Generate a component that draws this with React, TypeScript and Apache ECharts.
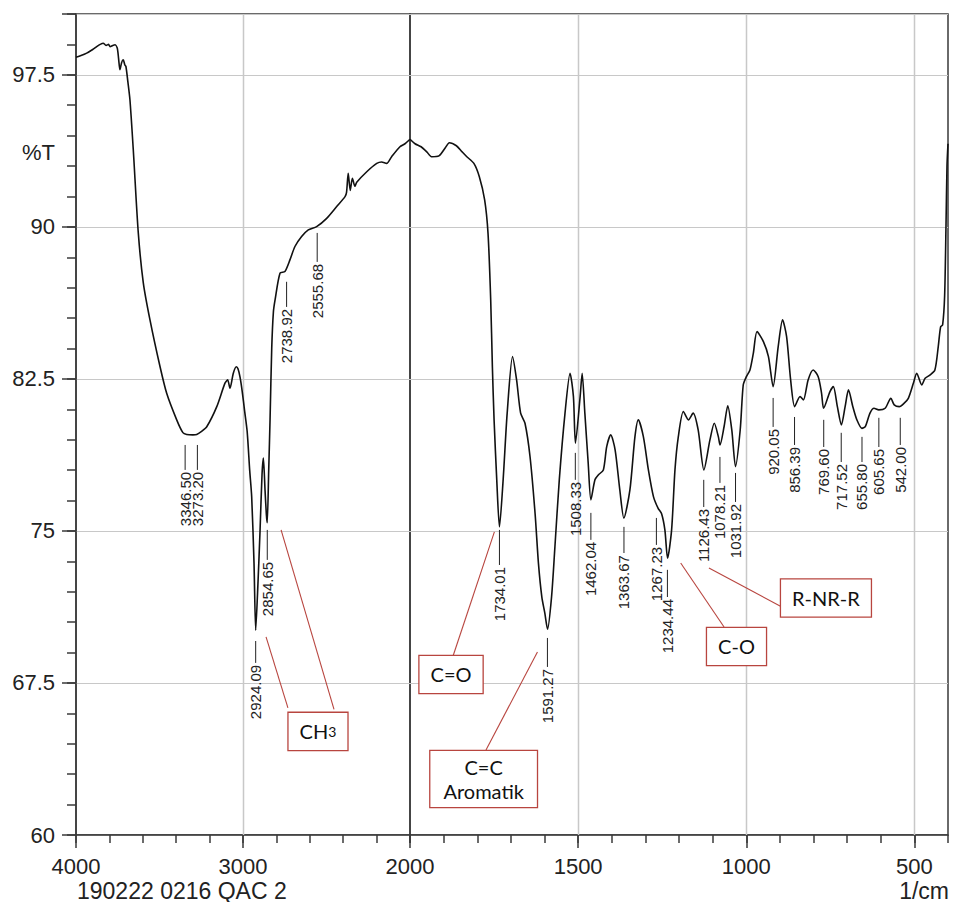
import React, { useEffect, useRef } from "react";
import * as echarts from "echarts";

// ---------- DATA ----------
// FTIR spectrum, wavenumber (1/cm) and transmittance (%T)
const spectrumWavenumber = [
  4000, 3970, 3936, 3900, 3876, 3855, 3837, 3820, 3805, 3796, 3780, 3766, 3753, 3745, 3737, 3727, 3717, 3708, 3701,
  3690, 3677, 3657, 3627, 3597, 3557, 3497, 3457, 3397, 3360, 3337, 3300, 3277, 3250, 3217, 3157, 3108, 3092, 3078,
  3058, 3040, 3030, 3018, 3005, 2990, 2975, 2960, 2948, 2934, 2924, 2910, 2898, 2886, 2878, 2868, 2860, 2855, 2846,
  2838, 2828, 2818, 2808, 2778, 2749, 2719, 2689, 2649, 2609, 2559, 2499, 2439, 2389, 2380, 2370, 2358, 2345, 2330,
  2319, 2259, 2199, 2170, 2140, 2110, 2060, 2030, 2000,
  1985, 1967, 1950, 1936, 1914, 1895, 1883, 1862, 1845, 1831, 1810, 1794, 1778, 1768, 1760, 1755, 1750, 1742, 1734,
  1723, 1711, 1695, 1683, 1671, 1658, 1643, 1628, 1618, 1608, 1599, 1591, 1579, 1569, 1556, 1539, 1524, 1514, 1508,
  1494, 1488, 1480, 1470, 1462, 1450, 1440, 1425, 1415, 1403, 1390, 1376, 1364, 1346, 1331, 1321, 1306, 1291, 1276,
  1262, 1252, 1242, 1234, 1222, 1212, 1202, 1187, 1172, 1158, 1143, 1126, 1108, 1095, 1083, 1078, 1066, 1055, 1043,
  1032, 1018, 1009, 1000, 989, 979, 968, 949, 934, 920, 905, 892, 880, 868, 856, 840, 830, 816, 801, 786, 776, 770,
  751, 741, 729, 717, 706, 696, 683, 671, 656, 646, 632, 620, 606, 587, 570, 560, 545, 531, 518, 503, 493, 478, 468,
  454, 439, 429, 422, 416, 410, 406, 403, 400,
];
const spectrumTransmittance = [
  98.37, 98.45, 98.57, 98.75, 98.89, 99.0, 99.06, 98.95, 99.0, 98.89, 98.95, 98.98, 98.82, 98.3, 97.75, 98.1, 98.24,
  98.0, 97.91, 97.2, 96.27, 93.8, 89.7, 87.24, 85.41, 83.11, 81.79, 80.48, 79.85, 79.76, 79.74, 79.76, 79.9, 80.14,
  81.13, 82.29, 82.45, 82.04, 82.78, 83.1, 83.0, 82.6, 81.9, 80.9, 79.9, 78.0, 76.69, 73.4, 70.1, 72.5, 75.0, 77.8,
  78.6, 77.0, 75.8, 75.4, 78.0, 80.5, 84.0, 85.8, 86.4, 87.72, 87.8, 88.37, 89.03, 89.52, 89.85, 90.01, 90.42, 91.0,
  91.49, 91.7, 92.64, 91.8, 92.4, 92.0, 92.2, 92.72, 93.13, 93.2, 93.13, 93.46, 93.95, 94.1, 94.32,
  94.1, 93.95, 93.7, 93.46, 93.5, 93.9, 94.15, 94.0, 93.7, 93.46, 93.13, 92.48, 91.33, 89.69, 86.4, 83.1, 80.5, 77.52,
  75.2, 77.52, 80.81, 83.6, 82.45, 80.81, 80.31, 78.66, 75.86, 73.4, 71.75, 70.94, 70.15, 71.75, 74.22, 77.52, 80.81,
  82.78, 81.63, 79.33, 81.63, 82.78, 80.81, 78.34, 76.53, 77.52, 77.76, 78.01, 79.16, 79.74, 79.0, 77.02, 75.63, 77.02,
  79.65, 80.48, 79.65, 78.01, 76.69, 76.11, 75.86, 75.05, 73.65, 75.05, 78.01, 79.65, 80.89, 80.48, 80.81, 79.98,
  78.01, 79.49, 80.31, 79.65, 79.24, 80.14, 81.17, 79.98, 78.17, 79.98, 82.2, 82.6, 82.94, 83.76, 84.83, 84.34, 83.6,
  82.12, 84.09, 85.41, 84.59, 82.45, 81.13, 81.63, 81.46, 82.45, 82.94, 82.61, 81.79, 81.05, 81.87, 82.12, 81.13,
  80.23, 81.13, 81.96, 81.13, 80.48, 80.06, 80.14, 80.81, 81.05, 80.97, 81.05, 81.54, 81.22, 81.13, 81.29, 81.54,
  82.28, 82.78, 82.2, 82.53, 82.69, 82.94, 84.09, 85.07, 85.16, 86.6, 90.0, 93.0, 94.1,
];

// Axis ticks
const yLabelValues = [60, 67.5, 75, 82.5, 90, 97.5];
const leftXLabels = [4000, 3000, 2000];
const rightXLabels = [1500, 1000, 500];
const leftXGridLines = [3000];
const rightXGridLines = [1500, 1000, 500];

// Peak labels (wavenumber, leader top %T, leader bottom %T)
const leftPeakWavenumbers = [3346.5, 3273.2, 2924.09, 2854.65, 2738.92, 2555.68];
const leftPeakTipT = [79.24, 79.24, 69.57, 75.05, 87.29, 89.7];
const leftPeakBaseT = [78.01, 78.01, 68.49, 73.57, 86.05, 88.27];

const rightPeakWavenumbers = [
  1734.01, 1591.27, 1508.33, 1462.04, 1363.67, 1267.23, 1234.44, 1126.43, 1078.21, 1031.92, 920.05, 856.39, 769.6,
  717.52, 655.8, 605.65, 542.0,
];
const rightPeakTipT = [75.05, 69.72, 78.85, 75.89, 75.2, 75.64, 73.08, 77.52, 78.65, 77.86, 81.56, 80.62, 80.48, 79.84, 79.64, 80.58, 80.58];
const rightPeakBaseT = [73.32, 68.29, 77.52, 74.56, 73.91, 74.31, 71.74, 76.18, 77.37, 76.43, 80.13, 79.24, 79.14, 78.4, 78.4, 79.14, 79.24];

// Annotation boxes (functional groups)
const annotationLabels = ["CH3", "C=O", "C=C\nAromatik", "C-O", "R-NR-R"];
const annotationBoxW = [2551, 1878, 1781, 1029, 763];
const annotationBoxT = [65.11, 67.92, 62.76, 69.3, 71.69];
// pointer lines: owner annotation index, start and end
const pointerOwner = [0, 0, 1, 2, 3, 4];
const pointerStartW = [2862, 2772, 1749, 1621, 1195, 1111];
const pointerStartT = [69.77, 75.05, 74.95, 69.03, 73.42, 73.17];
const pointerEndW = [2731, 2455, 1872, 1774, 1066, 894];
const pointerEndT = [66.27, 66.2, 68.83, 64.19, 70.26, 71.25];

// ---------- STYLE ----------
const FONT = '"Liberation Sans", Arial, sans-serif';
const BOX_FONT = 'Lato, "Open Sans", sans-serif';
const AXIS_COLOR = "#3a3a3a";
const GRID_COLOR = "#c8c8c8";
const RED = "#b8453f";
const Y_MIN = 60;
const Y_MAX = 100.5;

function verticalGridSeries(values: number[], xi: number, yi: number) {
  return {
    type: "custom",
    xAxisIndex: xi,
    yAxisIndex: yi,
    z: 3,
    silent: true,
    clip: false,
    data: values.map((v) => [v, Y_MIN, Y_MAX]),
    renderItem: (params: any, api: any) => {
      const a = api.coord([api.value(0), api.value(1)]);
      const b = api.coord([api.value(0), api.value(2)]);
      const x = Math.round(a[0]) + 0.5;
      return {
        type: "rect",
        shape: { x: x - 0.75, y: b[1], width: 1.5, height: a[1] - b[1] },
        style: { fill: GRID_COLOR },
      };
    },
  };
}

function peakSeries(ws: number[], tips: number[], bases: number[], xi: number, yi: number) {
  return {
    type: "custom",
    xAxisIndex: xi,
    yAxisIndex: yi,
    z: 6,
    silent: true,
    clip: false,
    data: ws.map((w, i) => [w, tips[i], bases[i]]),
    renderItem: (params: any, api: any) => {
      const w = api.value(0);
      const top = api.coord([w, api.value(1)]);
      const bot = api.coord([w, api.value(2)]);
      return {
        type: "group",
        children: [
          {
            type: "line",
            shape: { x1: top[0], y1: top[1], x2: bot[0], y2: bot[1] },
            style: { stroke: "#222", lineWidth: 1 },
          },
          {
            type: "text",
            x: bot[0],
            y: bot[1] + 2,
            rotation: Math.PI / 2,
            style: {
              text: Number(w).toFixed(2),
              fill: "#222",
              fontSize: 15,
              fontFamily: FONT,
              align: "right",
              verticalAlign: "middle",
            },
          },
        ],
      };
    },
  };
}

function pointerSeries(indices: number[], xi: number, yi: number) {
  return {
    type: "custom",
    xAxisIndex: xi,
    yAxisIndex: yi,
    z: 7,
    silent: true,
    clip: false,
    data: indices.map((i) => [pointerStartW[i], pointerStartT[i], pointerEndW[i], pointerEndT[i]]),
    renderItem: (params: any, api: any) => {
      const a = api.coord([api.value(0), api.value(1)]);
      const b = api.coord([api.value(2), api.value(3)]);
      return {
        type: "line",
        shape: { x1: a[0], y1: a[1], x2: b[0], y2: b[1] },
        style: { stroke: RED, lineWidth: 1.1 },
      };
    },
  };
}

function boxSeries(indices: number[], xi: number, yi: number) {
  return {
    type: "custom",
    xAxisIndex: xi,
    yAxisIndex: yi,
    z: 8,
    silent: true,
    clip: false,
    data: indices.map((i) => [annotationBoxW[i], annotationBoxT[i]]),
    renderItem: (params: any, api: any) => {
      const c = api.coord([api.value(0), api.value(1)]);
      const label = annotationLabels[indices[params.dataIndex]];
      const isCH3 = label === "CH3";
      const twoLine = label.indexOf("\n") >= 0;
      return {
        type: "text",
        x: c[0],
        y: c[1],
        style: {
          text: isCH3 ? "{a|CH}{b|3}" : label,
          rich: isCH3
            ? {
                a: { fontSize: 20, fontFamily: BOX_FONT, fill: "#111", lineHeight: 25 },
                b: { fontSize: 14, fontFamily: BOX_FONT, fill: "#111", lineHeight: 25 },
              }
            : undefined,
          fill: "#111",
          fontSize: 20,
          fontFamily: BOX_FONT,
          lineHeight: twoLine ? 24 : 25,
          align: "center",
          verticalAlign: "middle",
          backgroundColor: "#ffffff",
          borderColor: RED,
          borderWidth: 1.3,
          padding: twoLine ? [4, 13] : [6, 11],
        },
      };
    },
  };
}

const axisLineStyle = { color: AXIS_COLOR, width: 1.5 };

function buildOption() {
  const leftData: number[][] = [];
  const rightData: number[][] = [];
  spectrumWavenumber.forEach((w, i) => {
    if (w >= 2000) leftData.push([w, spectrumTransmittance[i]]);
    if (w <= 2000) rightData.push([w, spectrumTransmittance[i]]);
  });

  const leftAnn = annotationLabels.map((_, i) => i).filter((i) => annotationBoxW[i] >= 2000);
  const rightAnn = annotationLabels.map((_, i) => i).filter((i) => annotationBoxW[i] < 2000);
  const leftPtr = pointerOwner.map((_, i) => i).filter((i) => pointerStartW[i] >= 2000);
  const rightPtr = pointerOwner.map((_, i) => i).filter((i) => pointerStartW[i] < 2000);

  const hiddenX = { axisLine: { show: false }, axisLabel: { show: false }, splitLine: { show: false } };

  return {
    animation: false,
    backgroundColor: "#ffffff",
    grid: [
      { left: 76, top: 14, width: 334, height: 821, show: true, borderColor: AXIS_COLOR, borderWidth: 1.5, backgroundColor: "transparent" },
      { left: 410, top: 14, width: 538, height: 821, show: true, borderColor: AXIS_COLOR, borderWidth: 1.5, backgroundColor: "transparent" },
    ],
    xAxis: [
      {
        gridIndex: 0,
        type: "value",
        position: "bottom",
        min: 2000,
        max: 4000,
        interval: 1000,
        inverse: true,
        axisLine: { show: true, onZero: false, lineStyle: axisLineStyle },
        axisTick: { show: true, length: 13, lineStyle: axisLineStyle },
        axisLabel: {
          color: "#222",
          fontSize: 22,
          fontFamily: FONT,
          margin: 20,
          showMinLabel: true,
          showMaxLabel: true,
          formatter: (v: number) => (leftXLabels.indexOf(v) >= 0 ? String(v) : ""),
        },
        splitLine: { show: false },
      },
      {
        gridIndex: 1,
        type: "value",
        position: "bottom",
        min: 400,
        max: 2000,
        inverse: true,
        axisLine: { show: true, onZero: false, lineStyle: axisLineStyle },
        axisTick: { show: true, length: 13, lineStyle: axisLineStyle, customValues: rightXLabels },
        axisLabel: {
          color: "#222",
          fontSize: 22,
          fontFamily: FONT,
          margin: 20,
          customValues: rightXLabels,
          formatter: (v: number) => String(v),
        },
        splitLine: { show: false },
      },
      {
        gridIndex: 1,
        type: "value",
        position: "bottom",
        min: 400,
        max: 2000,
        interval: 100,
        inverse: true,
        axisTick: { show: true, length: 8, lineStyle: axisLineStyle },
        ...hiddenX,
      },
      {
        gridIndex: 0,
        type: "value",
        position: "bottom",
        min: 2000,
        max: 4000,
        interval: 200,
        inverse: true,
        axisTick: { show: true, length: 8, lineStyle: axisLineStyle },
        ...hiddenX,
      },
    ],
    yAxis: [
      {
        gridIndex: 0,
        type: "value",
        min: Y_MIN,
        max: Y_MAX,
        interval: 7.5,
        axisLine: { show: true, onZero: false, lineStyle: axisLineStyle },
        axisTick: { show: true, length: 14, lineStyle: axisLineStyle },
        axisLabel: {
          color: "#222",
          fontSize: 22,
          fontFamily: FONT,
          margin: 21,
          formatter: (v: number) => (yLabelValues.indexOf(v) >= 0 ? String(v) : ""),
        },
        splitLine: { show: true, lineStyle: { color: GRID_COLOR, width: 1.2 } },
      },
      {
        gridIndex: 0,
        type: "value",
        position: "left",
        min: Y_MIN,
        max: Y_MAX,
        interval: 1.5,
        axisLine: { show: false },
        axisTick: { show: true, length: 9, lineStyle: axisLineStyle },
        axisLabel: { show: false },
        splitLine: { show: false },
      },
      {
        gridIndex: 1,
        type: "value",
        min: Y_MIN,
        max: Y_MAX,
        interval: 7.5,
        axisLine: { show: false },
        axisTick: { show: false },
        axisLabel: { show: false },
        splitLine: { show: true, lineStyle: { color: GRID_COLOR, width: 1.2 } },
      },
    ],
    graphic: [
      { type: "text", left: 22, top: 141, style: { text: "%T", fontSize: 22, fontFamily: FONT, fill: "#222" } },
      { type: "text", left: 77, top: 879, style: { text: "190222 0216 QAC 2", fontSize: 23, fontFamily: FONT, fill: "#222" } },
      { type: "text", right: 4, top: 879, style: { text: "1/cm", fontSize: 23, fontFamily: FONT, fill: "#222" } },
    ],
    series: [
      verticalGridSeries(leftXGridLines, 0, 0),
      verticalGridSeries(rightXGridLines, 1, 2),
      {
        type: "line",
        xAxisIndex: 0,
        yAxisIndex: 0,
        data: leftData,
        showSymbol: false,
        symbol: "none",
        smooth: 0.25,
        z: 4,
        lineStyle: { color: "#111", width: 1.6 },
      },
      {
        type: "line",
        xAxisIndex: 1,
        yAxisIndex: 2,
        data: rightData,
        showSymbol: false,
        symbol: "none",
        smooth: 0.25,
        z: 4,
        lineStyle: { color: "#111", width: 1.6 },
      },
      peakSeries(leftPeakWavenumbers, leftPeakTipT, leftPeakBaseT, 0, 0),
      peakSeries(rightPeakWavenumbers, rightPeakTipT, rightPeakBaseT, 1, 2),
      pointerSeries(leftPtr, 0, 0),
      pointerSeries(rightPtr, 1, 2),
      boxSeries(leftAnn, 0, 0),
      boxSeries(rightAnn, 1, 2),
    ],
  };
}

export default function App() {
  const ref = useRef<HTMLDivElement>(null);
  useEffect(() => {
    document.body.style.margin = "0";
    if (!ref.current) return;
    const chart = echarts.init(ref.current, null, { renderer: "svg" });
    chart.setOption(buildOption() as any);
    return () => chart.dispose();
  }, []);
  return <div ref={ref} style={{ width: 953, height: 902 }} />;
}
